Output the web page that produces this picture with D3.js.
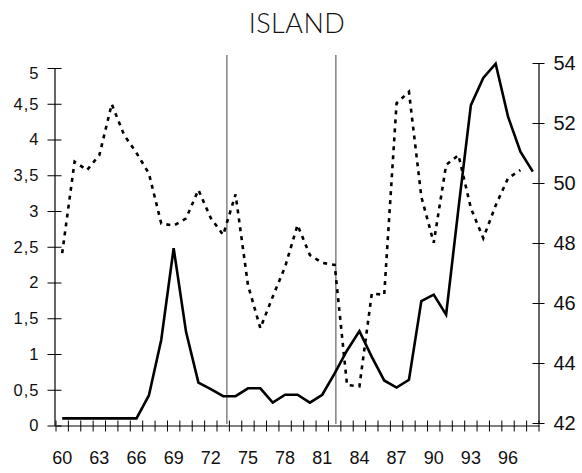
<!DOCTYPE html>
<html>
<head>
<meta charset="utf-8">
<script src="https://cdn.jsdelivr.net/npm/d3@7"></script>
<style>
  body { margin: 0; background: #fff; }
  svg { font-family: Lato, "Open Sans", sans-serif; }
</style>
</head>
<body>
<svg id="chart" width="582" height="473"></svg>
<script>
// years on the category axis
const years = d3.range(1960, 1999);
// solid line, left axis
const leftValues = [0.1, 0.1, 0.1, 0.1, 0.1, 0.1, 0.1, 0.42, 1.2, 2.48,
    1.31, 0.6, 0.51, 0.41, 0.41, 0.52, 0.52, 0.32, 0.43, 0.43,
    0.32, 0.43, 0.73, 1.05, 1.32, 0.96, 0.63, 0.53, 0.64, 1.74,
    1.83, 1.55, 3.04, 4.48, 4.86, 5.06, 4.32, 3.83, 3.55];
// dashed line, right axis (no value for 98)
const rightValues = [47.66, 50.71, 50.43, 50.93, 52.63, 51.6, 51.0, 50.32, 48.65, 48.58,
    48.82, 49.77, 48.83, 48.27, 49.62, 46.6, 45.16, 46.21, 47.21, 48.6,
    47.6, 47.34, 47.27, 43.27, 43.22, 46.32, 46.27, 52.66, 53.04, 49.54,
    48.01, 50.6, 50.93, 49.16, 48.16, 49.25, 50.16, 50.43, null];
const leftTicks = [0, 0.5, 1, 1.5, 2, 2.5, 3, 3.5, 4, 4.5, 5];
const rightTicks = [42, 44, 46, 48, 50, 52, 54];
const labelYears = years.filter(y => (y - 1960) % 3 === 0);
// the two vertical marker lines
const eventYears = [1973.3, 1982.1];

const svg = d3.select('#chart');
const fmt = d => String(d).replace('.', ',');

const x = d3.scaleBand().domain(years).range([56, 539]).padding(0);
const xc = d => x(d) + x.bandwidth() / 2;
const yL = d3.scaleLinear().domain([0, 5]).range([425.5, 68]);
const yR = d3.scaleLinear().domain([42, 54]).range([423, 63]);

// title
svg.append('text')
    .attr('x', 297).attr('y', 33)
    .attr('text-anchor', 'middle')
    .style('font-size', '27px')
    .style('font-weight', 300)
    .style('letter-spacing', '0.5px')
    .style('fill', '#111')
    .text('ISLAND');

// vertical marker lines
svg.selectAll('.event')
    .data(eventYears)
    .enter().append('line')
    .attr('class', 'event')
    .attr('x1', d => x(1960) + (d - 1960 + 0.5) * x.step())
    .attr('x2', d => x(1960) + (d - 1960 + 0.5) * x.step())
    .attr('y1', 55).attr('y2', 424)
    .style('stroke', '#444')
    .style('stroke-width', 1);

// left axis
const gL = svg.append('g')
    .attr('transform', 'translate(54.5,0)')
    .call(d3.axisLeft(yL).tickValues(leftTicks).tickFormat(fmt)
        .tickSize(7).tickSizeOuter(0).tickPadding(8));
gL.selectAll('.tick line').attr('x1', 7);
gL.selectAll('.tick text')
    .style('font-size', '16.5px')
    .style('letter-spacing', '1px')
    .attr('y', d => d === 5 ? 5 : 0);
// right axis
const gR = svg.append('g')
    .attr('transform', 'translate(538.5,0)')
    .call(d3.axisRight(yR).tickValues(rightTicks)
        .tickSize(6).tickSizeOuter(0).tickPadding(9));
gR.selectAll('.tick line').attr('x1', -6);
gR.selectAll('.tick text').style('font-size', '20px');

// bottom axis: labels every third year, ticks between years
const gX = svg.append('g')
    .attr('transform', 'translate(0,425.5)')
    .call(d3.axisBottom(x).tickValues(labelYears)
        .tickFormat(d => String(d % 100))
        .tickSize(0).tickSizeOuter(0).tickPadding(26));
gX.selectAll('.tick line').remove();
gX.selectAll('.tick text').style('font-size', '18px');
gX.selectAll('.bound')
    .data(d3.range(years.length + 1))
    .enter().append('line')
    .attr('class', 'bound')
    .attr('x1', i => x(1960) + i * x.step())
    .attr('x2', i => x(1960) + i * x.step())
    .attr('y1', -5).attr('y2', 6)
    .style('stroke', '#000');

svg.selectAll('.domain').style('stroke', '#000').style('stroke-width', 1.2);
svg.selectAll('.tick text').style('fill', '#111');

// dashed series
const lineR = d3.line()
    .defined((d, i) => rightValues[i] != null)
    .x((d, i) => xc(years[i]))
    .y(d => yR(d));
svg.append('path')
    .datum(rightValues)
    .style('fill', 'none')
    .style('stroke', '#000')
    .style('stroke-width', 2.6)
    .style('stroke-dasharray', '4,5')
    .attr('d', lineR);

// solid series
const lineL = d3.line()
    .x((d, i) => xc(years[i]))
    .y(d => yL(d));
svg.append('path')
    .datum(leftValues)
    .style('fill', 'none')
    .style('stroke', '#000')
    .style('stroke-width', 2.6)
    .style('stroke-linejoin', 'miter')
    .attr('d', lineL);
</script>
</body>
</html>
